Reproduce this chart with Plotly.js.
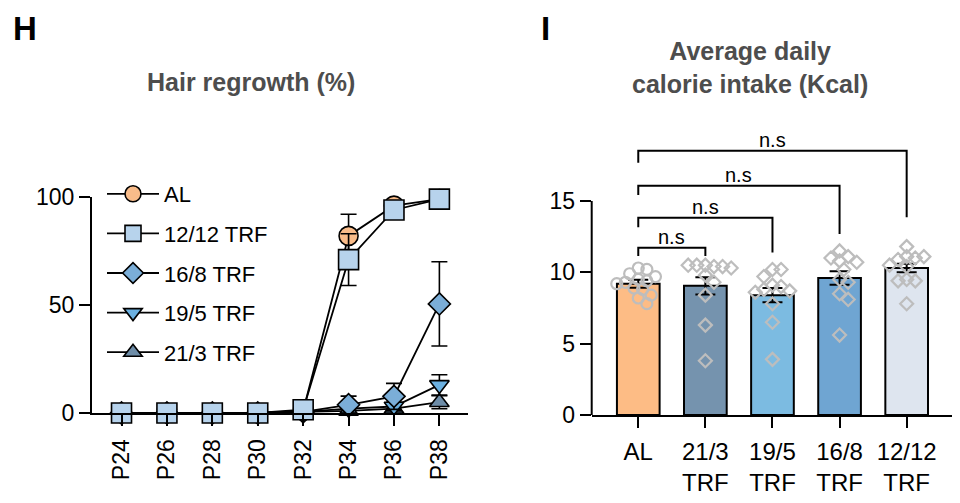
<!DOCTYPE html>
<html>
<head>
<meta charset="utf-8">
<script src="https://cdn.plot.ly/plotly-3.0.1.min.js"></script>
<style>html,body{margin:0;padding:0;background:#fff;}#chart{width:960px;height:503px;}</style>
</head>
<body>
<div id="chart"></div>
<script>
// ---------- Panel H data: hair regrowth (%) ----------
const days = ['P24','P26','P28','P30','P32','P34','P36','P38'];
const alMean    = [0,0,0,0,1.0,82,96,99];
const alErr     = [0,0,0,0,0.5,10,2,1];
const trf12Mean = [0,0,0,0,1.5,71,94,99];
const trf12Err  = [0,0,0,0,1.0,12,2,1];
const trf16Mean = [0,0,0,0,0.5,3.8,7.7,50.5];
const trf16Err  = [0,0,0,0,0.5,4,6,19.5];
const trf19Mean = [0,0,0,0,0.5,2,3,13];
const trf19Err  = [0,0,0,0,0.5,2,2,4.7];
const trf21Mean = [0,0,0,0,0.5,1,2,5];
const trf21Err  = [0,0,0,0,0.5,1,1.5,3];

// ---------- Panel I data: average daily calorie intake (Kcal) ----------
const groups = ['AL','21/3<br>TRF','19/5<br>TRF','16/8<br>TRF','12/12<br>TRF'];
const kcalMean = [9.2, 9.05, 8.4, 9.6, 10.3];
const kcalSem  = [0.28, 0.6, 0.5, 0.47, 0.3];
const ptsAL    = [10.3,10.2,9.9,9.7,9.5,9.4,9.3,9.2,8.9,8.8,8.4,8.2,7.8];
const pts21    = [10.5,10.4,10.5,10.4,10.5,10.3,9.8,9.3,8.4,6.3,3.8];
const pts19    = [10.2,10.2,9.7,9.1,9.0,8.8,8.7,8.6,7.8,6.5,3.9];
const pts16    = [11.5,11.1,11.0,10.8,10.7,10.2,9.5,9.3,8.5,8.1,5.6];
const pts12    = [11.8,11.1,11.0,10.9,11.1,10.5,10.4,9.5,9.4,9.4,7.8];
// comparisons (AL vs group index) with bracket heights
const cmpTo     = [1, 2, 3, 4];
const cmpLabel  = ['n.s','n.s','n.s','n.s'];
const brTop     = [11.72, 13.83, 16.07, 18.52];
const brLeftEnd = [11.14, 13.15, 15.42, 17.68];
const brRightEnd= [11.14, 11.38, 12.68, 13.85];

// ---------- styling ----------
const FONT = 'Liberation Sans, Arial, Helvetica, sans-serif';
const W = 960, H = 503;
const xDom1 = [92/W, 468/W], yDom1 = [1-413/H, 1-197/H];
const xRange1 = [-0.65, 7.63];
const xDom2 = [591.7/W, 951.7/W], yDom2 = [1-415/H, 1-129.6/H];
const xRange2 = [-0.694, 4.671], yRange2 = [0, 20];

const idx = days.map((d,i)=>i);
function lineTrace(name, y, err, symbol, color, size, rank){
  return {
    type:'scatter', mode:'lines+markers', name:name, x:idx, y:y,
    xaxis:'x', yaxis:'y', cliponaxis:false, legendrank:rank, legendgroup:name,
    line:{color:'#000', width:1.8},
    marker:{symbol:symbol, size:size, color:color, line:{color:'#000', width:1.6}},
    error_y:{type:'data', array:err, color:'#000', thickness:1.6, width:8}
  };
}
const traces = [
  lineTrace('21/3 TRF', trf21Mean, trf21Err, 'triangle-up', '#6E8DA8', 17, 5),
  lineTrace('19/5 TRF', trf19Mean, trf19Err, 'triangle-down', '#6BB0E0', 17, 4),
  lineTrace('16/8 TRF', trf16Mean, trf16Err, 'diamond', '#7BAED8', 17, 3),
  lineTrace('AL', alMean, alErr, 'circle', '#F9BC8A', 19, 1),
  lineTrace('12/12 TRF', trf12Mean, trf12Err, 'square', '#B7D3EC', 20, 2)
];

// bars
const gIdx = groups.map((g,i)=>i);
traces.push({
  type:'bar', x:gIdx, y:kcalMean, xaxis:'x2', yaxis:'y2', width:0.636, showlegend:false,
  marker:{color:['#FDBC85','#7593AE','#7CBBE1','#6FA5D2','#DEE5EF'], line:{color:'#000', width:2}},
  error_y:{type:'data', array:kcalSem, color:'#000', thickness:2, width:10}
});

// beeswarm offsets computed in pixel space
const pxPerX = (xDom2[1]-xDom2[0])*W/(xRange2[1]-xRange2[0]);
const pxPerY = (yDom2[1]-yDom2[0])*H/(yRange2[1]-yRange2[0]);
function swarm(center, vals, diam){
  const placed = [];
  const xs = [];
  vals.forEach(v=>{
    const py = v*pxPerY;
    let chosen = 0;
    for(let k=0;k<40;k++){
      const off = (k===0?0:(k%2===1?1:-1)*Math.ceil(k/2))*diam*0.5;
      let ok = true;
      for(const p of placed){
        if(Math.hypot(p[0]-off, p[1]-py) < diam){ ok=false; break; }
      }
      if(ok){ chosen = off; break; }
    }
    placed.push([chosen, py]);
    xs.push(center + chosen/pxPerX);
  });
  return xs;
}
const allPts = [ptsAL, pts21, pts19, pts16, pts12];
allPts.forEach((arr,i)=>{
  traces.push({
    type:'scatter', mode:'markers', x:swarm(i, arr, 8.6), y:arr, xaxis:'x2', yaxis:'y2',
    showlegend:false, cliponaxis:false,
    marker:{symbol: i===0?'circle-open':'diamond-open', size: i===0?11:10, color:'#BDBDBD', line:{width:2.2, color:'#BDBDBD'}}
  });
});

// shapes and annotations
const shapes = [
  {type:'line', xref:'x2 domain', yref:'y2', x0:0, x1:0, y0:0, y1:15, line:{color:'#000', width:2}}
];
function paperText(text, x, y, size, color){
  return {text:text, xref:'paper', yref:'paper', x:x/W, y:1-y/H, xanchor:'center', yanchor:'middle',
    showarrow:false, font:{family:FONT, size:size, color:color}};
}
const annotations = [
  paperText('<b>H</b>', 25, 29, 33, '#000'),
  paperText('<b>I</b>', 545, 29, 33, '#000'),
  paperText('<b>Hair regrowth (%)</b>', 251, 82, 25, '#4D4D4D'),
  paperText('<b>Average daily<br>calorie intake (Kcal)</b>', 750, 68, 25, '#4D4D4D')
];
cmpTo.forEach((j,k)=>{
  shapes.push({type:'path', xref:'x2', yref:'y2',
    path:`M 0,${brLeftEnd[k]} L 0,${brTop[k]} L ${j},${brTop[k]} L ${j},${brRightEnd[k]}`,
    line:{color:'#000', width:2}});
  annotations.push({text:cmpLabel[k], xref:'x2', yref:'y2', x:j/2, y:brTop[k], xanchor:'center', yanchor:'bottom', yshift:-2,
    showarrow:false, font:{family:FONT, size:20, color:'#000'}});
});

const axBase = {showgrid:false, zeroline:false, ticks:'outside', ticklen:11, tickwidth:2, tickcolor:'#000',
  linecolor:'#000', linewidth:2, tickfont:{family:FONT, size:23, color:'#000'}};

const layout = {
  width:W, height:H, margin:{l:0,r:0,t:0,b:0},
  paper_bgcolor:'#fff', plot_bgcolor:'rgba(0,0,0,0)',
  font:{family:FONT, color:'#000'},
  showlegend:true,
  legend:{x:102/W, y:1-173/H, xanchor:'left', yanchor:'top', bgcolor:'rgba(0,0,0,0)',
    font:{family:FONT, size:22, color:'#000'}, tracegroupgap:8, itemwidth:52, traceorder:'grouped'},
  xaxis:Object.assign({}, axBase, {domain:xDom1, range:xRange1, anchor:'y', tickmode:'array', tickvals:idx, ticktext:days, tickangle:-90, showline:true, ticklabelstandoff:4}),
  yaxis:Object.assign({}, axBase, {domain:yDom1, range:[0,100], anchor:'x', tickmode:'array', tickvals:[0,50,100], showline:true}),
  xaxis2:Object.assign({}, axBase, {domain:xDom2, range:xRange2, anchor:'y2', tickmode:'array', tickvals:gIdx, ticktext:groups, showline:true, ticklabelstandoff:3, tickfont:{family:FONT, size:24, color:'#000'}}),
  yaxis2:Object.assign({}, axBase, {domain:yDom2, range:yRange2, anchor:'x2', tickmode:'array', tickvals:[0,5,10,15], showline:false}),
  shapes:shapes, annotations:annotations, bargap:0.3
};
Plotly.newPlot('chart', traces, layout, {staticPlot:true, displayModeBar:false});
</script>
</body>
</html>
